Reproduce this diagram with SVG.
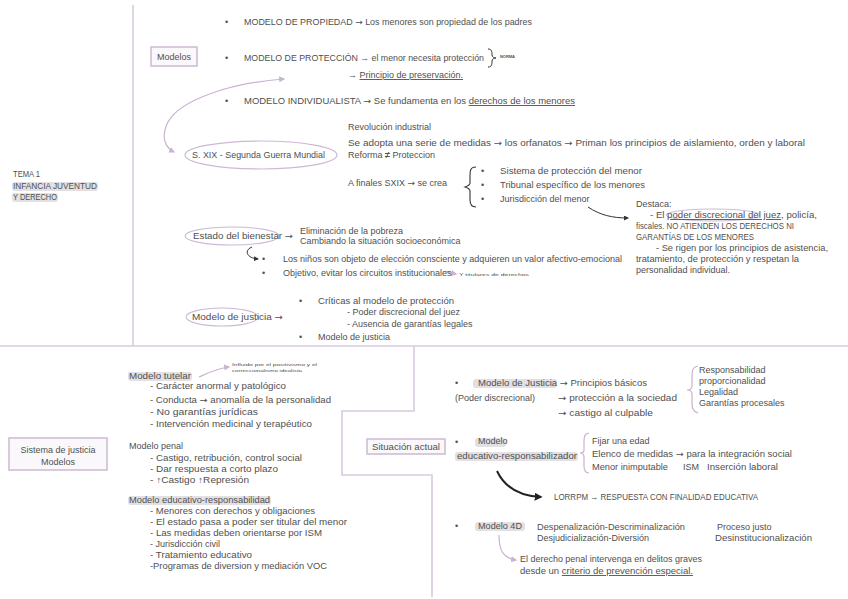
<svg xmlns="http://www.w3.org/2000/svg" width="848" height="599" viewBox="0 0 848 599">
<style>
text{font-family:"Liberation Sans",Arial,sans-serif;font-size:9px;fill:#505050}
.t{font-size:4.2px}
.ar{font-family:"DejaVu Sans",sans-serif}
.ln{stroke:#d8cade;stroke-width:1.6;fill:none}
.cv{stroke:#c9b3d1;stroke-width:1.2;fill:none}
.dk{stroke:#333;stroke-width:1;fill:none}
.hl{fill:#e2e0e2}
.box{fill:#faf8fb;stroke:#cdb9d4;stroke-width:1.5}
</style>
<defs>
<marker id="ap" viewBox="0 0 10 10" refX="8" refY="5" markerWidth="5" markerHeight="5" orient="auto-start-reverse"><path d="M0,0 L10,5 L0,10 z" fill="#c9b3d1"/></marker>
<marker id="ad" viewBox="0 0 10 10" refX="8" refY="5" markerWidth="5" markerHeight="5" orient="auto"><path d="M0,0 L10,5 L0,10 z" fill="#333"/></marker>
<marker id="ab" viewBox="0 0 10 10" refX="8" refY="5" markerWidth="4" markerHeight="4" orient="auto"><path d="M0,0 L10,5 L0,10 z" fill="#222"/></marker>
</defs>
<rect width="848" height="599" fill="#ffffff"/>

<g id="frame">
<line class="ln" x1="133" y1="5" x2="133" y2="346"/>
<line class="ln" x1="0" y1="346" x2="848" y2="346"/>
<polyline class="ln" points="414,346 414,411 342,411 342,475 432,475 432,597"/>
</g>

<g id="connectors">
<path class="cv" d="M284,79 C230,83 180,100 168,122 C160,138 166,148 174,152" marker-start="url(#ap)" marker-end="url(#ap)"/>
<path class="dk" d="M588,207 C600,215 612,218 628,218" marker-end="url(#ad)"/>
<path class="dk" d="M252,247 C244,250 246,258 258,259" marker-end="url(#ad)"/>
<path class="cv" d="M443,272 C448,270 451,273 456,274" marker-end="url(#ap)"/>
<path class="cv" d="M199,377 C210,372 218,368 229,367" marker-end="url(#ap)"/>
<path d="M497,471 C505,488 520,496 541,497" stroke="#222" stroke-width="2" fill="none" marker-end="url(#ab)"/>
<path class="cv" d="M499,535 C499,549 502,558 516,560" marker-end="url(#ap)"/>
</g>

<g id="tema">
<text x="13" y="177" textLength="27" lengthAdjust="spacingAndGlyphs">TEMA 1</text>
<rect class="hl" x="12" y="182" width="86" height="9" rx="3"/>
<text x="13" y="189" textLength="84" lengthAdjust="spacingAndGlyphs">INFANCIA JUVENTUD</text>
<rect class="hl" x="12" y="193" width="46" height="9" rx="3"/>
<text x="13" y="200" textLength="44" lengthAdjust="spacingAndGlyphs">Y DERECHO</text>
</g>

<g id="modelos">
<rect class="box" x="151" y="47" width="46" height="19"/>
<text x="157" y="59.5" textLength="34" lengthAdjust="spacingAndGlyphs">Modelos</text>
<text x="225" y="25">•</text>
<text x="244" y="25" textLength="288" lengthAdjust="spacingAndGlyphs">MODELO DE PROPIEDAD <tspan class="ar">→</tspan> Los menores son propiedad de los padres</text>
<text x="225" y="61">•</text>
<text x="244" y="61" textLength="240" lengthAdjust="spacingAndGlyphs">MODELO DE PROTECCIÓN → el menor necesita protección</text>
<path d="M488,49 C492,49 492,52 492,55 C492,57 494,58 496,58 C494,58 492,59 492,61 C492,64 492,67 488,67" stroke="#333" stroke-width="1" fill="none"/>
<text x="500" y="58" class="t" style="font-weight:bold" textLength="15" lengthAdjust="spacingAndGlyphs">NORMA</text>
<text x="348" y="78">→ <tspan text-decoration="underline">Principio de preservación.</tspan></text>
<text x="225" y="104">•</text>
<text x="244" y="104" textLength="331" lengthAdjust="spacingAndGlyphs">MODELO INDIVIDUALISTA <tspan class="ar">→</tspan> Se fundamenta en los <tspan text-decoration="underline">derechos de los menores</tspan></text>
</g>

<g id="sxix">
<ellipse cx="261" cy="155" rx="76" ry="14" fill="none" stroke="#cdb9d4" stroke-width="1.2"/>
<text x="192" y="158" textLength="133" lengthAdjust="spacingAndGlyphs">S. XIX - Segunda Guerra Mundial</text>
<text x="348" y="130">Revolución industrial</text>
<text x="348" y="146" textLength="457" lengthAdjust="spacingAndGlyphs">Se adopta una serie de medidas <tspan class="ar">→</tspan> los orfanatos   <tspan class="ar">→</tspan>  Priman los principios de aislamiento, orden y laboral</text>
<text x="348" y="158">Reforma  <tspan style="font-weight:bold">≠</tspan>  Proteccion</text>
<text x="348" y="186">A finales SXIX <tspan class="ar">→</tspan> se crea</text>
<path d="M476,167 C470,167 470,171 470,177 L470,183 C470,185 468,186 465,187 C468,188 470,189 470,191 L470,200 C470,205 472,207 476,207" stroke="#333" stroke-width="1.1" fill="none"/>
<text x="481" y="174">•</text><text x="500" y="174" textLength="142" lengthAdjust="spacingAndGlyphs">Sistema de protección del menor</text>
<text x="481" y="188">•</text><text x="500" y="188" textLength="145" lengthAdjust="spacingAndGlyphs">Tribunal específico de los menores</text>
<text x="481" y="202">•</text><text x="500" y="202">Jurisdicción del menor</text>
</g>

<g id="destaca">
<text x="636" y="207">Destaca:</text>
<ellipse cx="713" cy="215" rx="47" ry="6" fill="none" stroke="#c9b3d1" stroke-width="0.9"/>
<text x="650" y="218" textLength="167" lengthAdjust="spacingAndGlyphs">- El <tspan text-decoration="underline">poder discrecional del juez</tspan>, policía,</text>
<text x="636" y="229" textLength="158" lengthAdjust="spacingAndGlyphs">fiscales. NO ATIENDEN LOS DERECHOS NI</text>
<text x="636" y="240" textLength="118" lengthAdjust="spacingAndGlyphs">GARANTÍAS DE LOS MENORES</text>
<text x="656" y="251" textLength="172" lengthAdjust="spacingAndGlyphs">- Se rigen por los principios de asistencia,</text>
<text x="636" y="262" textLength="163" lengthAdjust="spacingAndGlyphs">tratamiento, de protección y respetan la</text>
<text x="636" y="273">personalidad individual.</text>
</g>

<g id="bienestar">
<ellipse cx="232" cy="236" rx="47" ry="9" fill="none" stroke="#cdb9d4" stroke-width="1.1"/>
<text x="193" y="239" textLength="100" lengthAdjust="spacingAndGlyphs">Estado del bienestar <tspan class="ar">→</tspan></text>
<text x="300" y="234">Eliminación de la pobreza</text>
<text x="300" y="244">Cambiando la situación socioeconómica</text>
<text x="262" y="262">•</text><text x="283" y="262" textLength="339" lengthAdjust="spacingAndGlyphs">Los niños son objeto de elección consciente y adquieren un valor afectivo-emocional</text>
<text x="262" y="276">•</text><text x="283" y="276">Objetivo, evitar los circuitos institucionales</text>
<text x="459" y="276" class="t" textLength="70" lengthAdjust="spacingAndGlyphs">Y titulares de derechos</text>
</g>

<g id="justicia">
<ellipse cx="222" cy="317" rx="36" ry="9" fill="none" stroke="#cdb9d4" stroke-width="1.1"/>
<text x="192" y="320" textLength="91" lengthAdjust="spacingAndGlyphs">Modelo de justicia <tspan class="ar">→</tspan></text>
<text x="299" y="304">•</text><text x="318" y="304" textLength="136" lengthAdjust="spacingAndGlyphs">Críticas al modelo de protección</text>
<text x="347" y="315">- Poder discrecional del juez</text>
<text x="347" y="327">- Ausencia de garantías legales</text>
<text x="299" y="340">•</text><text x="318" y="340">Modelo de justicia</text>
</g>

<g id="sistema">
<rect class="box" x="9" y="438" width="98" height="32"/>
<text x="58" y="453" text-anchor="middle">Sistema de justicia</text>
<text x="58" y="465" text-anchor="middle">Modelos</text>
</g>

<g id="tutelar">
<rect class="hl" x="128" y="372" width="64" height="9" rx="3"/>
<text x="129" y="379" textLength="62" lengthAdjust="spacingAndGlyphs">Modelo tutelar</text>
<text x="232" y="366" class="t" textLength="85" lengthAdjust="spacingAndGlyphs">Influido por el positivismo y el</text>
<text x="232" y="372" class="t" textLength="70" lengthAdjust="spacingAndGlyphs">correccionalismo idealista</text>
<text x="150" y="389" textLength="136" lengthAdjust="spacingAndGlyphs">- Carácter anormal y patológico</text>
<text x="150" y="403" textLength="181" lengthAdjust="spacingAndGlyphs">- Conducta <tspan class="ar">→</tspan> anomalía de la personalidad</text>
<text x="150" y="415" textLength="108" lengthAdjust="spacingAndGlyphs">- No garantías jurídicas</text>
<text x="150" y="427" textLength="162" lengthAdjust="spacingAndGlyphs">- Intervención medicinal y terapéutico</text>
<text x="129" y="449">Modelo penal</text>
<text x="150" y="461" textLength="152" lengthAdjust="spacingAndGlyphs">- Castigo, retribución, control social</text>
<text x="150" y="472" textLength="128" lengthAdjust="spacingAndGlyphs">- Dar respuesta a corto plazo</text>
<text x="150" y="483" textLength="99" lengthAdjust="spacingAndGlyphs">-  ↑Castigo  ↑Represión</text>
<rect class="hl" x="128" y="496" width="143" height="9" rx="3"/>
<text x="129" y="503" textLength="141" lengthAdjust="spacingAndGlyphs">Modelo educativo-responsabilidad</text>
<text x="150" y="514" textLength="165" lengthAdjust="spacingAndGlyphs">- Menores con derechos y obligaciones</text>
<text x="150" y="525" textLength="197" lengthAdjust="spacingAndGlyphs">- El estado pasa a poder ser titular del menor</text>
<text x="150" y="536" textLength="172" lengthAdjust="spacingAndGlyphs">- Las medidas deben orientarse por ISM</text>
<text x="150" y="547">- Jurisdicción civil</text>
<text x="150" y="558" textLength="102" lengthAdjust="spacingAndGlyphs">- Tratamiento educativo</text>
<text x="150" y="569" textLength="177" lengthAdjust="spacingAndGlyphs">-Programas de diversion y mediación VOC</text>
</g>

<g id="actual">
<rect class="box" x="367" y="439" width="78" height="15"/>
<text x="372" y="449.5" textLength="68" lengthAdjust="spacingAndGlyphs">Situación actual</text>
</g>

<g id="mjusticia">
<text x="455" y="386">•</text>
<rect class="hl" x="473" y="379" width="84" height="9" rx="3"/>
<text x="478" y="386" textLength="169" lengthAdjust="spacingAndGlyphs">Modelo de Justicia <tspan class="ar">→</tspan> Principios básicos</text>
<text x="455" y="401">(Poder discrecional)</text>
<text x="558" y="401" textLength="119" lengthAdjust="spacingAndGlyphs"><tspan class="ar">→</tspan> protección a la sociedad</text>
<text x="558" y="416" textLength="95" lengthAdjust="spacingAndGlyphs"><tspan class="ar">→</tspan> castigo al culpable</text>
<path class="cv" d="M698,366 C692,367 692,371 692,379 L692,386 C692,389 689,390 687,390 C689,390 692,391 692,394 L692,404 C692,410 694,412 698,413"/>
<text x="699" y="373">Responsabilidad</text>
<text x="699" y="384">proporcionalidad</text>
<text x="699" y="395">Legalidad</text>
<text x="699" y="406">Garantías procesales</text>
</g>

<g id="meducativo">
<text x="455" y="445">•</text>
<rect class="hl" x="475" y="438" width="31" height="9" rx="3"/>
<text x="478" y="444">Modelo</text>
<rect class="hl" x="455" y="452" width="123" height="9" rx="3"/>
<text x="457" y="459" textLength="120" lengthAdjust="spacingAndGlyphs">educativo-responsabilizador</text>
<path class="cv" d="M589,433 C584,434 584,437 584,444 L584,450 C584,452 582,453 580,453 C582,453 584,454 584,457 L584,466 C584,471 586,473 589,473"/>
<text x="592" y="444">Fijar una edad</text>
<text x="592" y="457" textLength="200" lengthAdjust="spacingAndGlyphs">Elenco de medidas <tspan class="ar">→</tspan> para la integración social</text>
<text x="592" y="470" textLength="76" lengthAdjust="spacingAndGlyphs">Menor inimputable</text>
<text x="683" y="470">ISM</text>
<text x="707" y="470" textLength="71" lengthAdjust="spacingAndGlyphs">Inserción laboral</text>
<text x="554" y="500" textLength="204" lengthAdjust="spacingAndGlyphs">LORRPM → RESPUESTA CON FINALIDAD EDUCATIVA</text>
</g>

<g id="m4d">
<text x="455" y="529">•</text>
<rect class="hl" x="475" y="522" width="50" height="9" rx="3"/>
<text x="478" y="529" textLength="44" lengthAdjust="spacingAndGlyphs">Modelo  4D</text>
<text x="537" y="530" textLength="148" lengthAdjust="spacingAndGlyphs">Despenalización-Descriminalización</text>
<text x="537" y="541">Desjudicialización-Diversión</text>
<text x="717" y="530">Proceso justo</text>
<text x="715" y="541" textLength="97" lengthAdjust="spacingAndGlyphs">Desinstitucionalización</text>
<text x="520" y="562" textLength="182" lengthAdjust="spacingAndGlyphs">El derecho penal intervenga en delitos graves</text>
<text x="520" y="574" textLength="173" lengthAdjust="spacingAndGlyphs">desde un <tspan text-decoration="underline">criterio de prevención especial.</tspan></text>
</g>
</svg>
